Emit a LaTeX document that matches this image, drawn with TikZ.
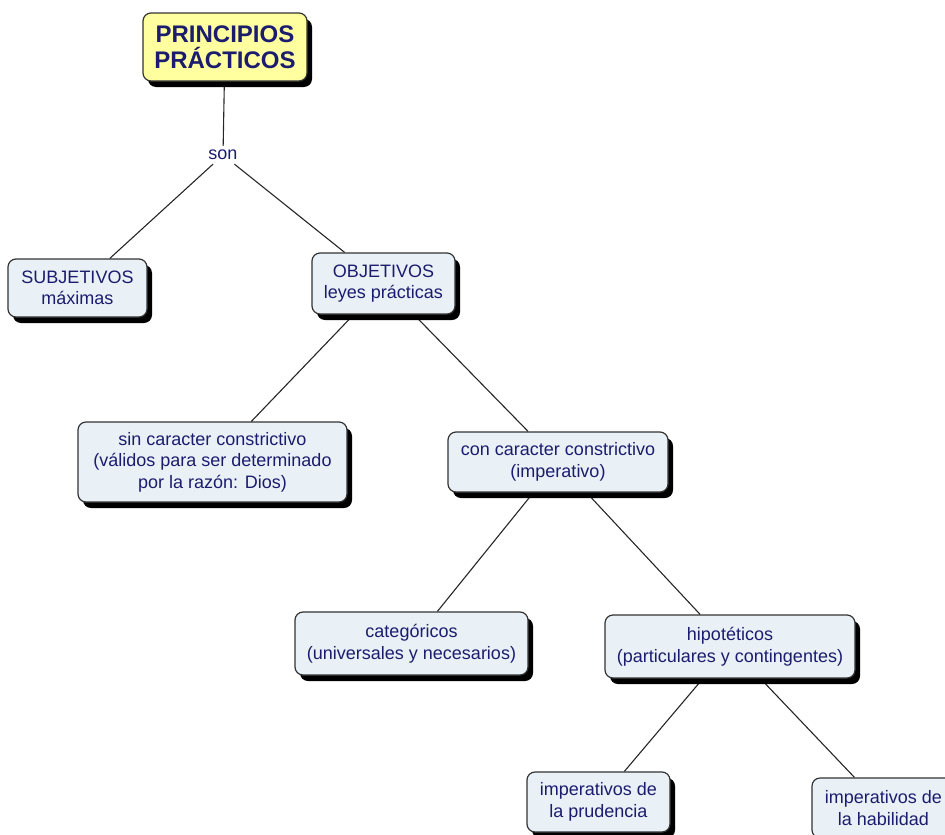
\documentclass[tikz,border=0pt]{standalone}
\usepackage{fontspec}
\setmainfont{Liberation Sans}
\usetikzlibrary{shadows,backgrounds}
\definecolor{cmapfill}{RGB}{233,241,246}
\definecolor{cmapyellow}{RGB}{255,255,160}
\definecolor{cmaptext}{RGB}{28,28,110}
\tikzset{
  concept/.style={draw=black!80,line width=1.2pt,fill=cmapfill,rounded corners=8pt,text=cmaptext,align=center,
    font=\fontsize{18}{21.5}\selectfont,inner sep=0pt,
    drop shadow={shadow xshift=5pt,shadow yshift=-6pt,fill=black,opacity=1}},
  linkword/.style={text=cmaptext,font=\fontsize{18}{21.5}\selectfont,inner sep=4pt},
  link/.style={line width=1.1pt,draw=black!85}
}
\begin{document}
\begin{tikzpicture}[x=1pt,y=-1pt]
\useasboundingbox (0,0) rectangle (945,835);
\clip (0,0) rectangle (945,835);
\node[concept,fill=cmapyellow,font=\bfseries\fontsize{24}{26.5}\selectfont,minimum width=164pt,minimum height=68pt] (principios) at (225,47) {PRINCIPIOS\\PRÁCTICOS};
\node[linkword] (son) at (223,155) {son};
\node[concept,minimum width=139pt,minimum height=58pt] (subjetivos) at (77.5,288) {SUBJETIVOS\\máximas};
\node[concept,minimum width=143pt,minimum height=61pt] (objetivos) at (383.5,283.5) {OBJETIVOS\\leyes prácticas};
\node[concept,minimum width=269pt,minimum height=80pt] (sincaracter) at (212.5,462) {sin caracter constrictivo\\(válidos para ser determinado\\por la razón: Dios)};
\node[concept,minimum width=220pt,minimum height=60pt] (concaracter) at (558,462) {con caracter constrictivo\\(imperativo)};
\node[concept,minimum width=233pt,minimum height=63pt] (categoricos) at (411.5,643.5) {categóricos\\(universales y necesarios)};
\node[concept,minimum width=250pt,minimum height=63pt] (hipoteticos) at (730,646.5) {hipotéticos\\(particulares y contingentes)};
\node[concept,minimum width=143pt,minimum height=60pt] (prudencia) at (598.5,802) {imperativos de\\la prudencia};
\node[concept,minimum width=143pt,minimum height=60pt] (habilidad) at (883.5,808) {imperativos de\\la habilidad};
\begin{scope}[on background layer]
\draw[link] (principios) -- (son);
\draw[link] (son) -- (subjetivos);
\draw[link] (son) -- (objetivos);
\draw[link] (objetivos) -- (sincaracter);
\draw[link] (objetivos) -- (concaracter);
\draw[link] (concaracter) -- (categoricos);
\draw[link] (concaracter) -- (hipoteticos);
\draw[link] (hipoteticos) -- (prudencia);
\draw[link] (hipoteticos) -- (habilidad);
\end{scope}
\end{tikzpicture}
\end{document}
